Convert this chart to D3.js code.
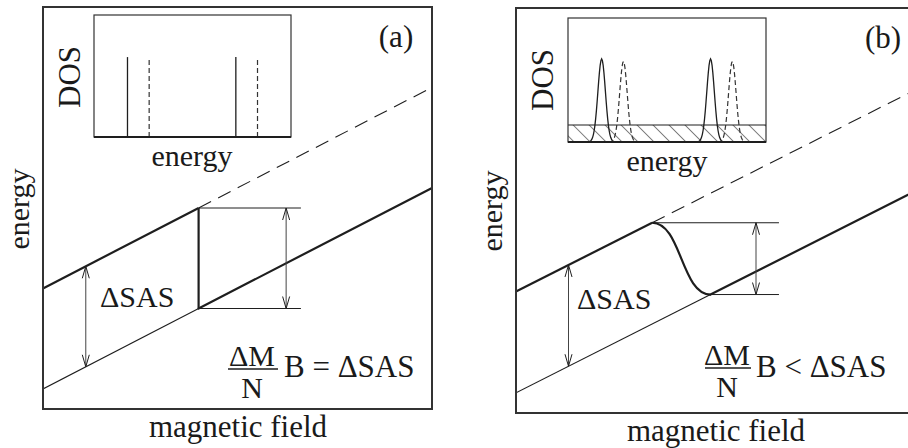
<!DOCTYPE html>
<html>
<head>
<meta charset="utf-8">
<script src="https://cdn.jsdelivr.net/npm/d3@7"></script>
<style>
  html, body { margin: 0; padding: 0; background: #fff; }
  svg { display: block; }
  text { font-family: "Liberation Serif", "Times New Roman", serif; fill: #1a1a1a; }
</style>
</head>
<body>
<svg id="chart" width="908" height="448"></svg>
<script>
// ---- data -------------------------------------------------------------
const panelTags        = ["(a)", "(b)"];
const relationSigns    = ["=", "<"];
const fieldDomain      = [0, 10];
const energyDomain     = [0, 10];
const levelSlope       = [0.5, 0.485];   // d(energy)/d(field) of both levels
const upperLevelAtZero = [3.0, 3.0];
const lowerLevelAtZero = [0.5, 0.5];
const switchStartField = [4.0, 3.5];     // field where the upper branch is left
const switchEndField   = [4.0, 5.0];     // field where the lower branch is joined
const fieldMax         = [10, 10.3];
const gapArrowField    = [1.1, 1.35];
const jumpArrowField   = [6.25, 6.17];
const jumpGuideEnd     = [6.63, 6.76];

// inset density of states (energy axis normalised to 0..1)
const dosSolidCenters  = [0.17, 0.72];
const dosDashedCenters = [0.28, 0.83];
const dosSolidHeight   = [0.655, 0.67];
const dosDashedHeight  = [0.64, 0.65];
const dosPeakWidth     = [0, 0.019];     // 0: sharp Landau levels
const dosBackground    = [0, 0.137];     // hatched extended-state band

// ---- layout -----------------------------------------------------------
const layout = [
  { frame: [43, 432, 7, 409],  frameRight: 432, inset: [94, 291, 15, 137],
    tag: [396, 47], dos: [80, 77], insetLabel: [192, 166], yLabel: [29, 209],
    sas: [100, 307], frac: [252, 228, 278, 369, 366, 398], rel: [284, 377], xLabel: [238, 437] },
  { frame: [516, 905, 8, 413], frameRight: 914, inset: [568, 766, 18, 142],
    tag: [883, 48], dos: [553, 80], insetLabel: [667, 171], yLabel: [502, 211],
    sas: [577, 309], frac: [727, 705, 751, 368, 365, 397], rel: [756, 377], xLabel: [716, 441] }
];

const svg = d3.select("#chart");
const defs = svg.append("defs");
const ink = "#1e1e1e";

defs.append("pattern")
  .attr("id", "hatch")
  .attr("patternUnits", "userSpaceOnUse")
  .attr("width", 11.3).attr("height", 11.3)
  .attr("patternTransform", "rotate(-45)")
  .append("line")
  .attr("x1", 0).attr("y1", 0).attr("x2", 0).attr("y2", 11.3)
  .attr("stroke", ink).attr("stroke-width", 1.1);

function arrowHead(g, x, y, dir) {
  // open V head, dir = +1 points up, -1 points down
  const len = 12, hw = 3.5;
  g.append("path")
    .attr("d", `M${x - hw},${y + dir * len} L${x},${y} L${x + hw},${y + dir * len}`)
    .attr("fill", "none").attr("stroke", ink).attr("stroke-width", 1);
}

function doubleArrow(g, x, yTop, yBot) {
  g.append("line").attr("x1", x).attr("x2", x).attr("y1", yTop).attr("y2", yBot)
    .attr("stroke", "#444").attr("stroke-width", 1);
  arrowHead(g, x, yTop, 1);
  arrowHead(g, x, yBot, -1);
}

panelTags.forEach((tag, i) => {
  const L = layout[i];
  const g = svg.append("g");
  const [fx0, fx1, fy0, fy1] = L.frame;

  const x = d3.scaleLinear().domain(fieldDomain).range([fx0, fx1]);
  const y = d3.scaleLinear().domain(energyDomain).range([fy1, fy0]);
  const upper = b => upperLevelAtZero[i] + levelSlope[i] * b;
  const lower = b => lowerLevelAtZero[i] + levelSlope[i] * b;
  const line = d3.line().x(d => x(d[0])).y(d => y(d[1]));

  const clipId = "clip" + i;
  defs.append("clipPath").attr("id", clipId)
    .append("rect").attr("x", fx0).attr("y", fy0)
    .attr("width", L.frameRight - fx0).attr("height", fy1 - fy0);
  const plot = g.append("g").attr("clip-path", `url(#${clipId})`);

  const s0 = switchStartField[i], s1 = switchEndField[i], fm = fieldMax[i];

  // lower level before the switch (thin)
  plot.append("path").attr("d", line([[0, lower(0)], [s1, lower(s1)]]))
    .attr("fill", "none").attr("stroke", ink).attr("stroke-width", 1.1);
  // upper level continuation (dashed)
  plot.append("path").attr("d", line([[s0, upper(s0)], [fm, upper(fm)]]))
    .attr("fill", "none").attr("stroke", ink).attr("stroke-width", 1.1)
    .attr("stroke-dasharray", "14,8");
  // occupied branch: upper level, switch, lower level (thick)
  const bump = d3.line().x(d => x(d[0])).y(d => y(d[1])).curve(d3.curveBumpX);
  plot.append("path").attr("d", line([[0, upper(0)], [s0, upper(s0)]]))
    .attr("fill", "none").attr("stroke", ink).attr("stroke-width", 2.2);
  plot.append("path").attr("d", bump([[s0, upper(s0)], [s1, lower(s1)]]))
    .attr("fill", "none").attr("stroke", ink).attr("stroke-width", 2.2);
  plot.append("path").attr("d", line([[s1, lower(s1)], [fm, lower(fm)]]))
    .attr("fill", "none").attr("stroke", ink).attr("stroke-width", 2.2)
    .attr("stroke-linecap", "round");

  // guides marking the jump
  plot.append("line")
    .attr("x1", x(s0)).attr("x2", x(jumpGuideEnd[i]))
    .attr("y1", y(upper(s0))).attr("y2", y(upper(s0)))
    .attr("stroke", ink).attr("stroke-width", 1);
  plot.append("line")
    .attr("x1", x(s1)).attr("x2", x(jumpGuideEnd[i]))
    .attr("y1", y(lower(s1))).attr("y2", y(lower(s1)))
    .attr("stroke", ink).attr("stroke-width", 1);
  doubleArrow(plot, x(jumpArrowField[i]), y(upper(s0)), y(lower(s1)));

  // gap between the two levels
  const ga = gapArrowField[i];
  doubleArrow(plot, x(ga), y(upper(ga)), y(lower(ga)));

  // frame
  g.append("rect").attr("x", fx0).attr("y", fy0)
    .attr("width", L.frameRight - fx0).attr("height", fy1 - fy0)
    .attr("fill", "none").attr("stroke", "#333").attr("stroke-width", 2);

  // ---- inset: density of states ----
  const [ix0, ix1, iy0, iy1] = L.inset;
  const ex = d3.scaleLinear().domain([0, 1]).range([ix0, ix1]);
  const dy = d3.scaleLinear().domain([0, 1]).range([iy1, iy0]);
  const ins = g.append("g");
  const dline = d3.line().x(d => ex(d[0])).y(d => dy(d[1]));

  if (dosBackground[i] > 0) {
    ins.append("rect").attr("x", ix0).attr("y", dy(dosBackground[i]))
      .attr("width", ix1 - ix0).attr("height", iy1 - dy(dosBackground[i]))
      .attr("fill", "url(#hatch)");
    ins.append("line").attr("x1", ix0).attr("x2", ix1)
      .attr("y1", dy(dosBackground[i])).attr("y2", dy(dosBackground[i]))
      .attr("stroke", ink).attr("stroke-width", 1.2);
  }

  const peak = (c, h) => {
    const w = dosPeakWidth[i];
    if (w === 0) return [[c, 0], [c, h]];
    return d3.range(-4, 4.001, 0.2).map(t => [c + t * w, h * Math.exp(-t * t / 2)]);
  };
  dosSolidCenters.forEach(c => {
    ins.append("path").attr("d", dline(peak(c, dosSolidHeight[i])))
      .attr("fill", "none").attr("stroke", ink).attr("stroke-width", 1.3);
  });
  dosDashedCenters.forEach(c => {
    ins.append("path").attr("d", dline(peak(c, dosDashedHeight[i])))
      .attr("fill", "none").attr("stroke", "#333").attr("stroke-width", 1.2)
      .attr("stroke-dasharray", "5,3");
  });

  ins.append("rect").attr("x", ix0).attr("y", iy0)
    .attr("width", ix1 - ix0).attr("height", iy1 - iy0)
    .attr("fill", "none").attr("stroke", "#333").attr("stroke-width", 1.2);
  ins.append("line").attr("x1", ix0).attr("x2", ix1).attr("y1", iy1).attr("y2", iy1)
    .attr("stroke", ink).attr("stroke-width", 2);

  // ---- text ----
  const fs = 31;
  g.append("text").attr("x", L.tag[0]).attr("y", L.tag[1])
    .attr("text-anchor", "middle").attr("font-size", fs).text(tag);
  g.append("text").attr("transform", `translate(${L.dos[0]},${L.dos[1]}) rotate(-90)`)
    .attr("text-anchor", "middle").attr("font-size", fs).text("DOS");
  g.append("text").attr("x", L.insetLabel[0]).attr("y", L.insetLabel[1])
    .attr("text-anchor", "middle").attr("font-size", 30).text("energy");
  g.append("text").attr("transform", `translate(${L.yLabel[0]},${L.yLabel[1]}) rotate(-90)`)
    .attr("text-anchor", "middle").attr("font-size", 30).text("energy");
  g.append("text").attr("x", L.xLabel[0]).attr("y", L.xLabel[1])
    .attr("text-anchor", "middle").attr("font-size", fs).text("magnetic field");
  g.append("text").attr("x", L.sas[0]).attr("y", L.sas[1])
    .attr("font-size", 30).text("ΔSAS");

  // fraction ΔM / N set as one text block with a rule between the lines
  const [fc, fb0, fb1, fby, topBase, nBase] = L.frac;
  const frac = g.append("text").attr("text-anchor", "middle").attr("font-size", 30);
  frac.append("tspan").attr("x", fc).attr("y", topBase).text("ΔM");
  frac.append("tspan").attr("x", fc).attr("y", nBase).text("N");
  g.append("line").attr("x1", fb0).attr("x2", fb1).attr("y1", fby).attr("y2", fby)
    .attr("stroke", ink).attr("stroke-width", 1.3);
  g.append("text").attr("x", L.rel[0]).attr("y", L.rel[1])
    .attr("font-size", 31).text(`B ${relationSigns[i]} ΔSAS`);
});
</script>
</body>
</html>
